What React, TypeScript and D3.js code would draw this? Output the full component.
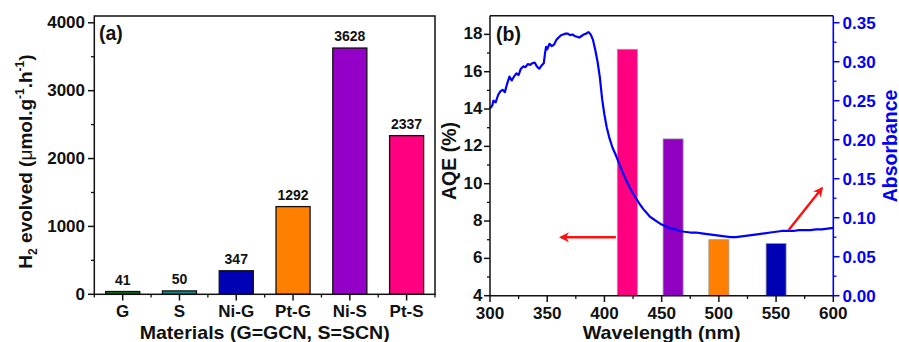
import React from "react";
import * as d3 from "d3";

// ---------- Panel (a) data ----------
const materials = ["G", "S", "Ni-G", "Pt-G", "Ni-S", "Pt-S"];
const h2Values = [41, 50, 347, 1292, 3628, 2337];
const materialColors = ["#1b6e1f", "#1a8a8a", "#0000b4", "#ff8000", "#9400c8", "#ff0080"];
const yTicksA = [0, 1000, 2000, 3000, 4000];

// ---------- Panel (b) data ----------
const aqeWavelengths = [420, 460, 500, 550];
const aqeValues = [17.2, 12.4, 7.0, 6.8];
const aqeColors = ["#ff0080", "#9000c0", "#ff8000", "#0000b4"];
const xTicksB = [300, 350, 400, 450, 500, 550, 600];
const yTicksBL = [4, 6, 8, 10, 12, 14, 16, 18];
const yTicksBR = [0, 0.05, 0.1, 0.15, 0.2, 0.25, 0.3, 0.35];

// absorbance spectrum: [wavelength nm, absorbance]
const absorbance: [number, number][] = [
  [300, 0.240], [302, 0.244], [303, 0.250], [305, 0.248], [307, 0.257], [309, 0.262], [311, 0.264],
  [313, 0.261], [315, 0.272], [317, 0.281], [319, 0.276], [321, 0.281], [323, 0.285], [325, 0.283],
  [327, 0.291], [329, 0.294], [331, 0.293], [333, 0.297], [335, 0.296], [337, 0.298], [339, 0.299],
  [341, 0.294], [343, 0.291], [345, 0.295], [347, 0.298], [348, 0.310], [349, 0.319], [350, 0.316],
  [352, 0.323], [354, 0.320], [356, 0.322], [358, 0.328], [360, 0.331], [362, 0.334], [364, 0.335],
  [366, 0.336], [368, 0.336], [370, 0.334], [372, 0.335], [374, 0.333], [376, 0.332], [378, 0.331],
  [380, 0.333], [382, 0.335], [384, 0.336], [386, 0.338], [388, 0.335], [390, 0.328], [392, 0.315],
  [394, 0.300], [396, 0.280], [398, 0.252], [400, 0.232], [402, 0.216], [404, 0.204], [407, 0.190],
  [410, 0.180], [413, 0.169], [416, 0.158], [419, 0.148], [422, 0.139], [425, 0.131], [428, 0.124],
  [431, 0.117], [434, 0.111], [437, 0.106], [440, 0.101], [443, 0.098], [446, 0.095], [449, 0.092],
  [452, 0.090], [455, 0.088], [458, 0.086], [462, 0.085], [466, 0.083], [470, 0.082], [475, 0.081],
  [480, 0.081], [485, 0.080], [490, 0.079], [495, 0.078], [500, 0.077], [505, 0.076], [510, 0.075],
  [515, 0.075], [520, 0.076], [525, 0.077], [530, 0.078], [535, 0.079], [540, 0.080], [545, 0.081],
  [550, 0.082], [555, 0.083], [560, 0.083], [565, 0.083], [570, 0.084], [575, 0.084], [580, 0.084],
  [585, 0.085], [590, 0.085], [595, 0.086], [600, 0.087],
];

// arrows (data coordinates)
const leftArrow = { from: [410, 7.13], to: [362, 7.13] }; // AQE axis
const rightArrow = { from: [561, 0.0842], to: [590, 0.1377] }; // absorbance axis

const FONT = "'Liberation Sans', Arial, Helvetica, sans-serif";

export default function App() {
  // Panel (a) scales
  const xA = d3.scaleBand<string>().domain(materials).range([94.3, 435]).paddingInner(0.4).paddingOuter(0.2);
  const yA = d3.scaleLinear().domain([0, 4100]).range([294.3, 16]);
  const stepA = xA.step();
  const minorA = d3.range(500, 4100, 1000);

  // Panel (b) scales
  const xB = d3.scaleLinear().domain([300, 600]).range([490, 833.3]);
  const yL = d3.scaleLinear().domain([4, 19]).range([295.7, 15.7]);
  const yR = d3.scaleLinear().domain([0, 0.359]).range([295.7, 15.7]);
  const barW = xB(317.5) - xB(300);
  const line = d3.line<[number, number]>().x((d) => xB(d[0])).y((d) => yR(d[1])).curve(d3.curveLinear);
  const minorBx = d3.range(325, 600, 50);
  const minorBL = d3.range(5, 19, 2);
  const minorBR = d3.range(0.025, 0.359, 0.05);

  const blue = "#0000ff";
  const red = "#ff1010";

  return (
    <div style={{ position: "fixed", left: 0, top: 0 }}>
      <svg width={899} height={342} style={{ display: "block", background: "#fff" }} fontFamily={FONT} fontWeight="bold">
        <defs>
          <marker id="arr" viewBox="0 0 10 10" refX="8" refY="5" markerWidth="4.2" markerHeight="4.2" orient="auto-start-reverse" markerUnits="strokeWidth">
            <path d="M0,0 L10,5 L0,10 L3,5 Z" fill={red} />
          </marker>
        </defs>

        {/* ================= Panel (a) ================= */}
        <g>
          {materials.map((m, i) => (
            <rect key={m} x={xA(m)} y={yA(h2Values[i])} width={xA.bandwidth()} height={yA(0) - yA(h2Values[i])}
              fill={materialColors[i]} stroke="#111" strokeWidth={1.3} />
          ))}
          {materials.map((m, i) => (
            <text key={m + "v"} x={(xA(m) as number) + xA.bandwidth() / 2} y={yA(h2Values[i]) - 7} textAnchor="middle" fontSize={14} fill="#111">
              {h2Values[i]}
            </text>
          ))}
          {/* frame */}
          <rect x={94.3} y={16} width={435 - 94.3} height={294.3 - 16} fill="none" stroke="#111" strokeWidth={1.5} />
          {/* y ticks */}
          {yTicksA.map((t) => (
            <g key={t}>
              <line x1={88} x2={94.3} y1={yA(t)} y2={yA(t)} stroke="#111" strokeWidth={1.5} />
              <text x={85} y={yA(t)} dy="0.33em" textAnchor="end" fontSize={17} fill="#111">{t}</text>
            </g>
          ))}
          {minorA.map((t) => (
            <line key={t} x1={91} x2={94.3} y1={yA(t)} y2={yA(t)} stroke="#111" strokeWidth={1.3} />
          ))}
          {/* x ticks */}
          {materials.map((m) => {
            const cx = (xA(m) as number) + xA.bandwidth() / 2;
            return (
              <g key={m + "t"}>
                <line x1={cx} x2={cx} y1={294.3} y2={300.5} stroke="#111" strokeWidth={1.5} />
                <text x={cx} y={316.5} textAnchor="middle" fontSize={17} fill="#111">{m}</text>
              </g>
            );
          })}
          {d3.range(materials.length + 1).map((i) => {
            const bx = 94.3 + i * stepA;
            return <line key={"mb" + i} x1={bx} x2={bx} y1={294.3} y2={297.5} stroke="#111" strokeWidth={1.3} />;
          })}
          <text x={264.7} y={338.5} textAnchor="middle" fontSize={18.5} textLength={250} lengthAdjust="spacingAndGlyphs" fill="#111">Materials (G=GCN, S=SCN)</text>
          <text transform="translate(32,161.5) rotate(-90)" textAnchor="middle" fontSize={19} fill="#111">
            H<tspan fontSize={12} dy={5}>2</tspan><tspan dy={-5}> evolved (</tspan><tspan fontWeight="normal">μ</tspan>mol.g<tspan fontSize={12} dy={-8}>-1</tspan><tspan dy={8}>.h</tspan><tspan fontSize={12} dy={-8}>-1</tspan><tspan dy={8}>)</tspan>
          </text>
          <text x={99} y={40} fontSize={19.5} fill="#111">(a)</text>
        </g>

        {/* ================= Panel (b) ================= */}
        <g>
          {aqeWavelengths.map((w, i) => (
            <rect key={w} x={xB(w) - barW / 2} y={yL(aqeValues[i])} width={barW} height={yL(4) - yL(aqeValues[i])}
              fill={aqeColors[i]} stroke="#999" strokeWidth={0.8} />
          ))}
          <path d={line(absorbance) as string} fill="none" stroke={blue} strokeWidth={2.2} strokeLinejoin="round" />

          {/* arrows */}
          <line x1={xB(leftArrow.from[0])} y1={yL(leftArrow.from[1])} x2={xB(leftArrow.to[0])} y2={yL(leftArrow.to[1])}
            stroke={red} strokeWidth={2.4} markerEnd="url(#arr)" />
          <line x1={xB(rightArrow.from[0])} y1={yR(rightArrow.from[1])} x2={xB(rightArrow.to[0])} y2={yR(rightArrow.to[1])}
            stroke={red} strokeWidth={2.4} markerEnd="url(#arr)" />

          {/* frame: left, bottom, top black; right blue */}
          <line x1={490} x2={833.3} y1={15.7} y2={15.7} stroke="#111" strokeWidth={1.5} />
          <line x1={490} x2={833.3} y1={295.7} y2={295.7} stroke="#111" strokeWidth={1.5} />
          <line x1={490} x2={490} y1={15.7} y2={295.7} stroke="#111" strokeWidth={1.5} />
          <line x1={833.3} x2={833.3} y1={15.7} y2={296.5} stroke={blue} strokeWidth={1.6} />

          {/* bottom ticks */}
          {xTicksB.map((t) => (
            <g key={t}>
              <line x1={xB(t)} x2={xB(t)} y1={295.7} y2={302} stroke="#111" strokeWidth={1.5} />
              <text x={xB(t)} y={319} textAnchor="middle" fontSize={16} textLength={28.5} lengthAdjust="spacingAndGlyphs" fill="#111">{t}</text>
            </g>
          ))}
          {minorBx.map((t) => (
            <line key={t} x1={xB(t)} x2={xB(t)} y1={295.7} y2={299} stroke="#111" strokeWidth={1.3} />
          ))}
          {/* left ticks */}
          {yTicksBL.map((t) => (
            <g key={t}>
              <line x1={484} x2={490} y1={yL(t)} y2={yL(t)} stroke="#111" strokeWidth={1.5} />
              <text x={482.5} y={yL(t)} dy="0.3em" textAnchor="end" fontSize={17} fill="#111">{t}</text>
            </g>
          ))}
          {minorBL.map((t) => (
            <line key={t} x1={487} x2={490} y1={yL(t)} y2={yL(t)} stroke="#111" strokeWidth={1.3} />
          ))}
          {/* right ticks */}
          {yTicksBR.map((t) => (
            <g key={t}>
              <line x1={833.3} x2={839.5} y1={yR(t)} y2={yR(t)} stroke={blue} strokeWidth={1.5} />
              <text x={842.5} y={yR(t)} dy="0.36em" textAnchor="start" fontSize={17} fill={blue}>{t.toFixed(2)}</text>
            </g>
          ))}
          {minorBR.map((t) => (
            <line key={t} x1={833.3} x2={836.5} y1={yR(t)} y2={yR(t)} stroke={blue} strokeWidth={1.3} />
          ))}

          <text x={661.7} y={339.3} textAnchor="middle" fontSize={18.5} textLength={158} lengthAdjust="spacingAndGlyphs" fill="#111">Wavelength (nm)</text>
          <text transform="translate(456,161) rotate(-90)" textAnchor="middle" fontSize={19.5} fill="#111">AQE (%)</text>
          <text transform="translate(896.5,146) rotate(-90)" textAnchor="middle" fontSize={19.5} fill={blue}>Absorbance</text>
          <text x={496} y={41} fontSize={19.5} fill="#111">(b)</text>
        </g>
      </svg>
    </div>
  );
}
